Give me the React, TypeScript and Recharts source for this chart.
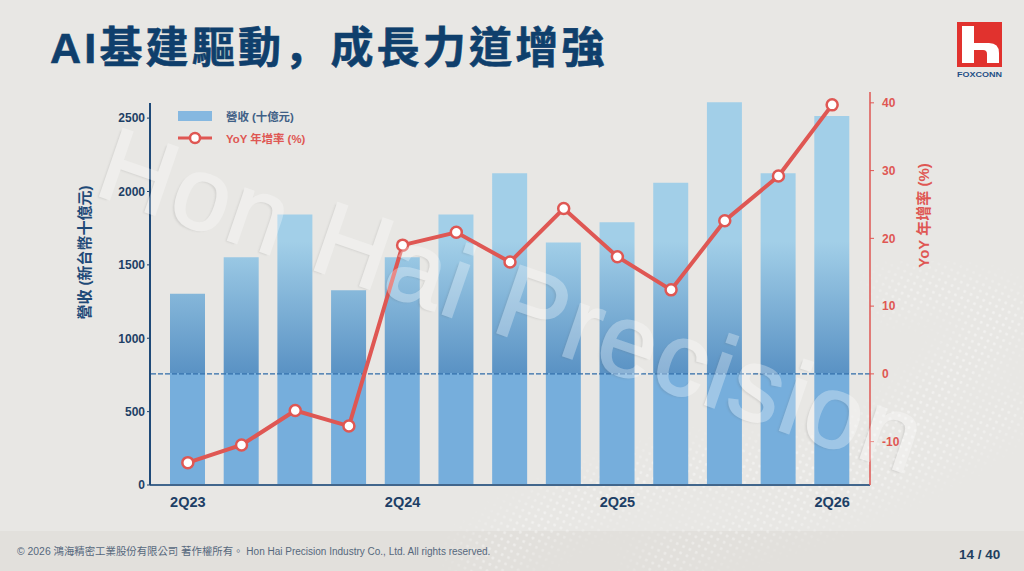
import React from 'react';
import {
    ComposedChart,
    Bar,
    Line,
    XAxis,
    YAxis,
    Legend,
    ReferenceLine,
} from 'recharts';

const quarters = ['2Q23', '3Q23', '4Q23', '1Q24', '2Q24', '3Q24', '4Q24', '1Q25', '2Q25', '3Q25', '4Q25', '1Q26', '2Q26'];
const revenue = [1304, 1552, 1843, 1327, 1552, 1843, 2124, 1653, 1790, 2059, 2609, 2124, 2514];
const yoy = [-13.1, -10.5, -5.4, -7.7, 19.0, 20.9, 16.5, 24.4, 17.3, 12.4, 22.6, 29.2, 39.7];
const revenueTicks = [0, 500, 1000, 1500, 2000, 2500];
const yoyTicks = [-10, 0, 10, 20, 30, 40];

const chartData = quarters.map((q, i) => ({ quarter: q, revenue: revenue[i], yoy: yoy[i] }));

const NAVY = '#1d3f66';
const RED = '#df5753';
const SANS = '"Liberation Sans", Arial, sans-serif';
const CJK = '"Liberation Sans", "Noto Sans CJK TC", sans-serif';

function ChartLegend() {
    return (
        <div style={{ fontFamily: CJK, fontSize: 11.4, fontWeight: 700 }}>
            <div style={{ display: 'flex', alignItems: 'center', height: 22, color: '#3f5f86' }}>
                <span style={{ width: 34, height: 10, background: '#86b8e0', marginRight: 14 }} />
                營收 (十億元)
            </div>
            <div style={{ display: 'flex', alignItems: 'center', height: 22, color: RED }}>
                <svg width={34} height={14} style={{ marginRight: 14 }}>
                    <line x1={0} x2={34} y1={7} y2={7} stroke={RED} strokeWidth={3} />
                    <circle cx={17} cy={7} r={5} fill="#fff" stroke={RED} strokeWidth={2.5} />
                </svg>
                YoY 年增率 (%)
            </div>
        </div>
    );
}

function DotTexture() {
    return (
        <svg width={1024} height={571} style={{ position: 'absolute', left: 0, top: 0 }}>
            <defs>
                <pattern id="dots" width={7} height={7} patternUnits="userSpaceOnUse" patternTransform="rotate(25)">
                    <circle cx={3.5} cy={3.5} r={1.4} fill="#fff" />
                </pattern>
                <filter id="soft"><feGaussianBlur stdDeviation={14} /></filter>
                <mask id="waves">
                    <g filter="url(#soft)" fill="none" stroke="#fff">
                        <path d="M470 571 C560 500 640 470 760 470 S930 400 1024 300" strokeWidth={50} />
                        <path d="M640 571 C720 520 860 520 1024 400" strokeWidth={36} />
                        <path d="M880 300 C930 280 980 290 1024 330" strokeWidth={40} />
                    </g>
                </mask>
            </defs>
            <rect width={1024} height={571} fill="url(#dots)" mask="url(#waves)" opacity={0.45} />
        </svg>
    );
}

function FoxconnLogo() {
    return (
        <svg width={50} height={62} style={{ position: 'absolute', left: 955, top: 21 }}>
            <rect x={2} y={1} width={45} height={45} fill="#e1322e" />
            <path d="M7 5 H19 V22 H34 Q44 22 44 32 V42 H32 V33 Q32 29 28 29 H19 V42 H7 Z" fill="#fff" />
            <text x={2} y={56} textLength={45} lengthAdjust="spacingAndGlyphs" fontFamily={SANS} fontSize={8} fontWeight={700} fill="#1f4f86">
                FOXCONN
            </text>
        </svg>
    );
}

export default function App() {
    return (
        <div
            style={{
                position: 'absolute',
                left: 0,
                top: 0,
                width: 1024,
                height: 571,
                overflow: 'hidden',
                background: '#e8e7e4',
                fontFamily: SANS,
            }}
        >
            <div style={{ position: 'absolute', left: 0, top: 531, width: 1024, height: 40, background: '#e2e0dc' }} />
            <DotTexture />

            <div
                style={{
                    position: 'absolute',
                    left: 50,
                    top: 14,
                    fontFamily: '"Liberation Sans", "Noto Sans CJK TC", sans-serif',
                    fontSize: 43,
                    lineHeight: '60px',
                    fontWeight: 700,
                    letterSpacing: 3.2,
                    color: '#0f3f6c',
                    WebkitTextStroke: '0.6px #0f3f6c',
                    whiteSpace: 'nowrap',
                }}
            >
                AI基建驅動<span style={{ fontFamily: '"Noto Sans CJK SC", sans-serif' }}>，</span>成長力道增強
            </div>
            <FoxconnLogo />

            <div style={{ position: 'absolute', left: 0, top: 0 }}>
                <ComposedChart
                    width={1024}
                    height={571}
                    data={chartData}
                    barCategoryGap={0}
                    margin={{ top: 92, right: 94, bottom: 40, left: 90 }}
                >
                    <defs>
                        {/* gradient is in page space so every bar darkens at the same height */}
                        <linearGradient id="barFill" gradientUnits="userSpaceOnUse" x1="0" y1="92" x2="0" y2="485">
                            <stop offset="0.38" stopColor="#a2cfe8" />
                            <stop offset="0.715" stopColor="#5a92c4" />
                            <stop offset="0.715" stopColor="#76aedc" />
                            <stop offset="1" stopColor="#76aedc" />
                        </linearGradient>
                    </defs>
                    <XAxis
                        dataKey="quarter"
                        interval={3}
                        height={46}
                        padding={{ left: 11, right: 11 }}
                        tickLine={false}
                        axisLine={{ stroke: '#41668c', strokeWidth: 2 }}
                        tick={{ fontSize: 14.5, fontWeight: 700, fill: NAVY, fontFamily: SANS }}
                        tickMargin={6}
                    />
                    <YAxis
                        yAxisId="left"
                        width={60}
                        domain={[0, 2678]}
                        ticks={revenueTicks}
                        axisLine={false}
                        tickSize={3}
                        tickLine={{ stroke: NAVY }}
                        tick={{ fontSize: 12, fontWeight: 700, fill: NAVY, fontFamily: SANS }}
                        label={{
                            value: '營收 (新台幣十億元)',
                            angle: -90,
                            position: 'insideLeft',
                            dx: -10,
                            dy: -36,
                            style: { fontSize: 15, fontWeight: 700, fill: '#1f4a78', fontFamily: CJK, textAnchor: 'middle' },
                        }}
                    />
                    <YAxis
                        yAxisId="right"
                        orientation="right"
                        width={60}
                        domain={[-16.4, 41.6]}
                        ticks={yoyTicks}
                        allowDataOverflow
                        axisLine={{ stroke: RED, strokeWidth: 1.5 }}
                        tickSize={4}
                        tickLine={{ stroke: RED }}
                        tickMargin={8}
                        tick={{ fontSize: 12, fontWeight: 700, fill: RED, fontFamily: SANS }}
                        label={{
                            value: 'YoY 年增率 (%)',
                            angle: -90,
                            position: 'insideRight',
                            dx: -1,
                            dy: -73,
                            style: { fontSize: 15, fontWeight: 700, fill: RED, fontFamily: CJK, textAnchor: 'middle' },
                        }}
                    />
                    <Legend
                        layout="horizontal"
                        align="center"
                        verticalAlign="middle"
                        content={<ChartLegend />}
                        wrapperStyle={{ left: 178, top: 105, width: 200 }}
                    />
                    <Bar
                        yAxisId="left"
                        dataKey="revenue"
                        name="營收 (十億元)"
                        barSize={35}
                        fill="url(#barFill)"
                        isAnimationActive={false}
                    />
                    <ReferenceLine yAxisId="right" y={0} stroke="#2f6ca8" strokeWidth={1.2} strokeDasharray="5 2" />
                    <Line
                        yAxisId="right"
                        dataKey="yoy"
                        name="YoY 年增率 (%)"
                        type="linear"
                        stroke={RED}
                        strokeWidth={4}
                        dot={{ r: 5.5, fill: '#fff', stroke: RED, strokeWidth: 2.5 }}
                        isAnimationActive={false}
                    />
                </ComposedChart>
            </div>

            {/* left axis stops at the 2600 level, shorter than the right one */}
            <div style={{ position: 'absolute', left: 149, top: 103, width: 1.5, height: 382, background: '#1f4a78' }} />

            {/* watermark: group opacity so the stroke and fill do not double up */}
            <div
                style={{
                    position: 'absolute',
                    left: 120,
                    top: 113,
                    fontFamily: SANS,
                    fontSize: 103,
                    lineHeight: '100px',
                    letterSpacing: 2.4,
                    color: '#fff',
                    WebkitTextStroke: '2px #fff',
                    textShadow: '-2px 2px 2px rgba(90,90,90,0.45)',
                    opacity: 0.3,
                    whiteSpace: 'nowrap',
                    transform: 'rotate(19deg)',
                    transformOrigin: '0 0',
                    pointerEvents: 'none',
                }}
            >
                Hon Hai Precision
            </div>

            <div
                style={{
                    position: 'absolute',
                    left: 17,
                    top: 545,
                    fontFamily: CJK,
                    fontSize: 10.4,
                    lineHeight: '14px',
                    color: '#56687c',
                    whiteSpace: 'nowrap',
                }}
            >
                © 2026 鴻海精密工業股份有限公司 著作權所有。 <span style={{ fontSize: 10 }}>Hon Hai Precision Industry Co., Ltd. All rights reserved.</span>
            </div>
            <div
                style={{
                    position: 'absolute',
                    left: 959,
                    top: 547,
                    fontSize: 13.5,
                    lineHeight: '16px',
                    fontWeight: 700,
                    color: '#1f3f5f',
                    whiteSpace: 'nowrap',
                }}
            >
                14 / 40
            </div>
        </div>
    );
}
